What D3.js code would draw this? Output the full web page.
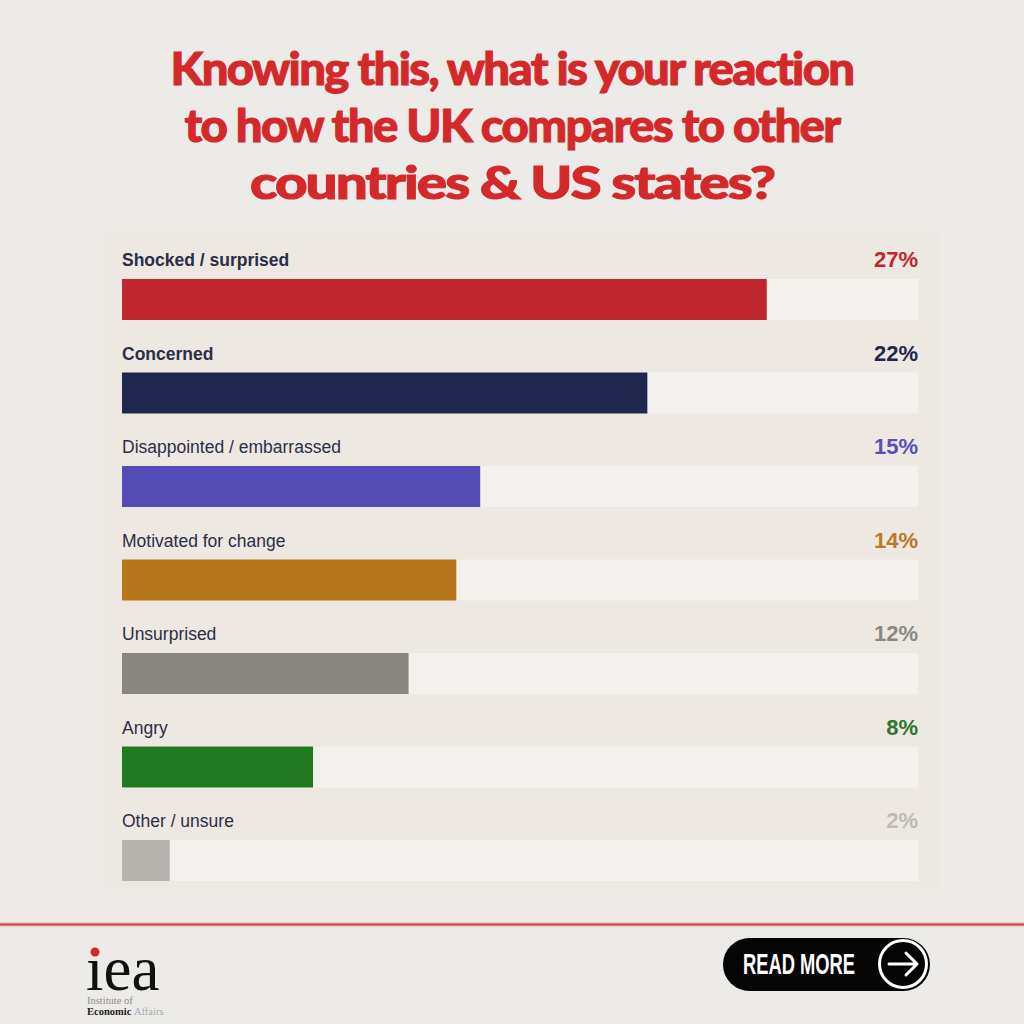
<!DOCTYPE html>
<html>
<head>
<meta charset="utf-8">
<script src="https://cdn.jsdelivr.net/npm/d3@7"></script>
<style>
  html, body { margin: 0; padding: 0; background: #ecebe8; }
  svg { display: block; }
</style>
</head>
<body>
<div id="chart"></div>
<script>
// Survey answers, top to bottom
const categories = [
    "Shocked / surprised",
    "Concerned",
    "Disappointed / embarrassed",
    "Motivated for change",
    "Unsurprised",
    "Angry",
    "Other / unsure"
];
const shares = [27, 22, 15, 14, 12, 8, 2];
const barColors = ["#c0262d", "#1f274f", "#554bb5", "#b8751c", "#88867f", "#1f7a22", "#b5b3ad"];
const valueColors = ["#c0262d", "#1f274f", "#5a50b8", "#b8792a", "#8a8883", "#2a7a2a", "#bdbbb6"];
const boldLabels = ["Shocked / surprised", "Concerned"];

const titleLines = [
    "Knowing this, what is your reaction",
    "to how the UK compares to other",
    "countries & US states?"
];

const width = 1024, height = 1024;

const svg = d3.select("#chart").append("svg")
    .attr("width", width)
    .attr("height", height);

// paper background
svg.append("rect").attr("width", width).attr("height", height).attr("fill", "#ecebe8");

// Title - heavy, tightly tracked
const titleWidths = [683, 655, 524];
svg.append("g").selectAll("text")
    .data(titleLines)
    .enter().append("text")
    .attr("x", 512)
    .attr("y", (d, i) => 85 + i * 57)
    .attr("text-anchor", "middle")
    .attr("textLength", (d, i) => titleWidths[i])
    .attr("lengthAdjust", "spacingAndGlyphs")
    .attr("font-family", "Lato, 'Open Sans', sans-serif")
    .attr("font-weight", 900)
    .attr("font-size", 46)
    .style("letter-spacing", "-1.6px")
    .attr("fill", "#d3292b")
    .attr("stroke", "#d3292b")
    .attr("stroke-width", 1)
    .text(d => d);

// Panel
svg.append("rect")
    .attr("x", 103).attr("y", 233)
    .attr("width", 838).attr("height", 657)
    .attr("fill", "#ede8e1");

// Scales
const x = d3.scaleLinear().domain([0, 100 / 3]).range([122, 918]);
const y = d3.scaleBand()
    .domain(categories)
    .range([279, 881])
    .paddingInner(0.5615)
    .paddingOuter(0);

const rows = svg.append("g").selectAll("g")
    .data(categories.map((c, i) => ({ name: c, value: shares[i], i: i })))
    .enter().append("g");

// tracks
rows.append("rect")
    .attr("x", x(0))
    .attr("y", d => y(d.name))
    .attr("width", x.range()[1] - x(0))
    .attr("height", y.bandwidth())
    .attr("fill", "#f3f1ed");

// bars
rows.append("rect")
    .attr("x", x(0))
    .attr("y", d => y(d.name))
    .attr("width", d => x(d.value) - x(0))
    .attr("height", y.bandwidth())
    .attr("fill", d => barColors[d.i]);

// category labels
rows.append("text")
    .attr("x", x(0))
    .attr("y", d => y(d.name) - 13)
    .attr("font-family", "'Liberation Sans', Arial, sans-serif")
    .attr("font-size", 17.5)
    .attr("font-weight", d => boldLabels.includes(d.name) ? 700 : 400)
    .attr("fill", "#2b2e48")
    .text(d => d.name);

// value labels
rows.append("text")
    .attr("x", x.range()[1])
    .attr("y", d => y(d.name) - 12)
    .attr("text-anchor", "end")
    .attr("font-family", "'Liberation Sans', Arial, sans-serif")
    .attr("font-size", 22)
    .attr("font-weight", 700)
    .attr("fill", d => valueColors[d.i])
    .text(d => d.value + "%");

// footer rule
svg.append("rect")
    .attr("x", 0).attr("y", 922)
    .attr("width", width).attr("height", 5)
    .attr("fill", "#e8c9c6");
svg.append("rect")
    .attr("x", 0).attr("y", 923.5)
    .attr("width", width).attr("height", 2)
    .attr("fill", "#c8403f");

// IEA logo
const logo = svg.append("g");
logo.append("text")
    .attr("x", 86).attr("y", 990)
    .attr("font-family", "'Liberation Serif', 'DejaVu Serif', serif")
    .attr("font-size", 63)
    .attr("fill", "#111")
    .text("\u0131ea");
logo.append("circle")
    .attr("cx", 95).attr("cy", 952).attr("r", 4.5)
    .attr("fill", "#d3292b");
logo.append("text")
    .attr("x", 87).attr("y", 1004)
    .attr("font-family", "'Liberation Serif', serif")
    .attr("font-size", 10.5)
    .attr("fill", "#8a8a8a")
    .text("Institute of");
const econ = logo.append("text")
    .attr("x", 87).attr("y", 1015)
    .attr("font-family", "'Liberation Serif', serif")
    .attr("font-size", 10.5);
econ.append("tspan").attr("font-weight", 700).attr("fill", "#222").text("Economic ");
econ.append("tspan").attr("fill", "#a8a8a8").text("Affairs");

// Read more button
const btn = svg.append("g");
btn.append("rect")
    .attr("x", 723).attr("y", 938)
    .attr("width", 207).attr("height", 53)
    .attr("rx", 26.5)
    .attr("fill", "#050505");
btn.append("text")
    .attr("x", 743).attr("y", 974)
    .attr("textLength", 112)
    .attr("lengthAdjust", "spacingAndGlyphs")
    .attr("font-family", "'Liberation Sans Narrow', 'Liberation Sans', Arial, sans-serif")
    .attr("font-weight", 700)
    .attr("font-size", 30)
    .attr("fill", "#fff")
    .text("READ MORE");
btn.append("circle")
    .attr("cx", 903).attr("cy", 964).attr("r", 23.5)
    .attr("fill", "none")
    .attr("stroke", "#fff")
    .attr("stroke-width", 3);
btn.append("path")
    .attr("d", "M889,964 H917 M906,953 L917,964 L906,975")
    .attr("fill", "none")
    .attr("stroke", "#fff")
    .attr("stroke-width", 3)
    .attr("stroke-linecap", "round")
    .attr("stroke-linejoin", "round");
</script>
</body>
</html>
